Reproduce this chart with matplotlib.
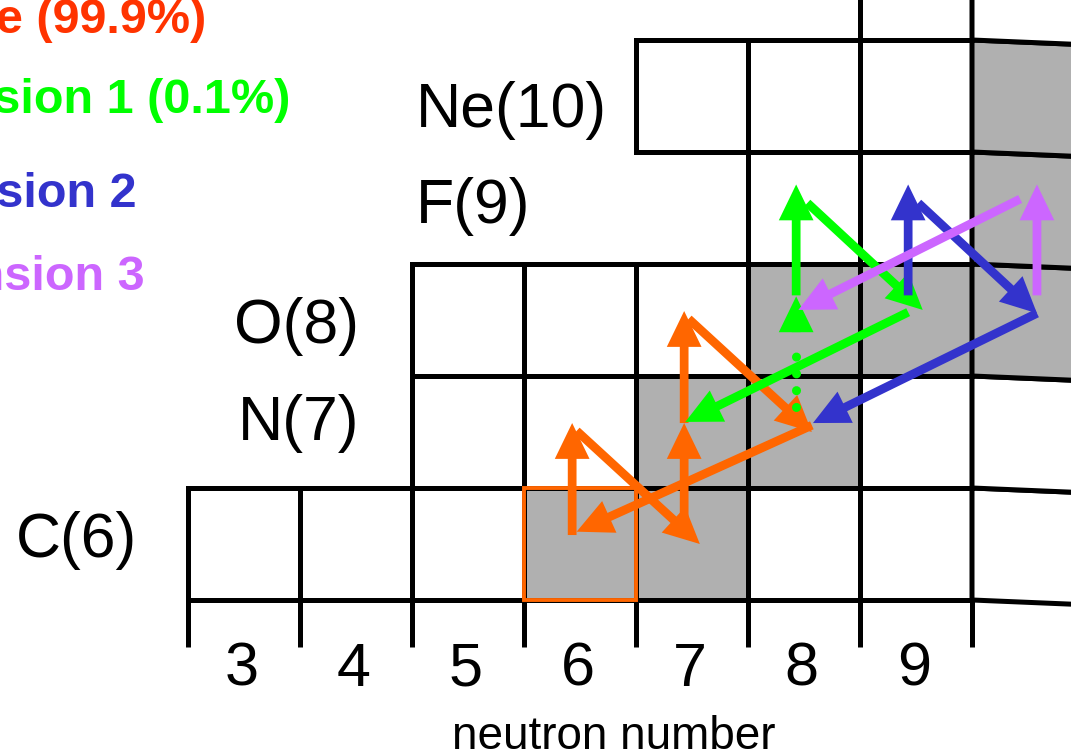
import math
import matplotlib
matplotlib.use('Agg')
import matplotlib.pyplot as plt
from matplotlib.patches import Rectangle, Polygon

plt.rcParams['font.family'] = ['Liberation Sans', 'DejaVu Sans']

# nuclide chart rows: element, proton number, first and last neutron number shown
elements = ['C', 'N', 'O', 'F', 'Ne', 'Na']
proton_numbers = [6, 7, 8, 9, 10, 11]
first_neutron = [3, 5, 5, 8, 7, 9]
last_neutron = [10, 10, 10, 10, 10, 10]
# stable nuclides as (N, Z)
stable = [(6, 6), (7, 6), (7, 7), (8, 7), (8, 8), (9, 8), (10, 8), (10, 9), (10, 10)]
neutron_ticks = [3, 4, 5, 6, 7, 8, 9]

# reactions (N, Z) -> (N, Z): pg = (p,gamma), beta = beta+ decay, pa = (p,alpha)
main_cycle = [((6, 6), (6, 7), 'pg'), ((6, 7), (7, 6), 'beta'), ((7, 6), (7, 7), 'pg'),
              ((7, 7), (7, 8), 'pg'), ((7, 8), (8, 7), 'beta'), ((8, 7), (6, 6), 'pa')]
extension1 = [((8, 7), (8, 8), 'pg'), ((8, 8), (8, 9), 'pg'), ((8, 9), (9, 8), 'beta'),
              ((9, 8), (7, 7), 'pa')]
extension2 = [((9, 8), (9, 9), 'pg'), ((9, 9), (10, 8), 'beta'), ((10, 8), (8, 7), 'pa')]
extension3 = [((10, 8), (10, 9), 'pg'), ((10, 9), (8, 8), 'pa')]
dotted_steps = [[], [0], [], []]
legend_text = ['CNO cycle (99.9%)', 'CNO extension 1 (0.1%)', 'CNO extension 2',
               'CNO extension 3']

colors = ['#ff6600', '#00ff00', '#3333cc', '#cc66ff']
text_colors = ['#ff3300', '#00ff00', '#3333cc', '#cc66ff']
gray = '#b0b0b0'

# where the arrows sit inside a cell: kind -> (start dx, dy, end dx, dy)
offsets = [
    {'pg': (-0.07, 0.08, -0.07, 0.08), 'beta': (-0.03, 0.01, 0.07, 0.0),
     'pa': (0.07, 0.06, -0.03, 0.11)},
    {'pg': (-0.07, 0.22, -0.07, 0.21), 'beta': (0.03, 0.045, 0.06, 0.09),
     'pa': (-0.07, 0.07, -0.06, 0.09)},
    {'pg': (-0.07, 0.22, -0.07, 0.21), 'beta': (0.02, 0.045, 0.08, 0.06),
     'pa': (0.08, 0.06, 0.08, 0.08)},
    {'pg': (0.08, 0.22, 0.08, 0.21), 'pa': (-0.07, 0.08, -0.05, 0.09)},
]

W, H = 1071, 755
fig = plt.figure(figsize=(W / 100, H / 100), dpi=100)
ax = fig.add_axes([0, 0, 1, 1])
ax.set_xlim(3 - 244 / 112, 3 + (W - 244) / 112)
ax.set_ylim(6 - (H - 544) / 112, 6 + 544 / 112)
ax.axis('off')

LW = 3.6
TILT = 0.042  # the scanned right column leans a little

for el, z, n0, n1 in zip(elements, proton_numbers, first_neutron, last_neutron):
    for n in range(n0, n1 + 1):
        fc = gray if (n, z) in stable else 'white'
        if n == 10:
            pts = [(n - 0.5, z - 0.5), (n + 0.5, z - 0.5 - TILT),
                   (n + 0.5, z + 0.5 - TILT), (n - 0.5, z + 0.5)]
            ax.add_patch(Polygon(pts, closed=True, fc=fc, ec='black', lw=LW, zorder=1,
                                 joinstyle='miter'))
        else:
            ax.add_patch(Rectangle((n - 0.5, z - 0.5), 1, 1, fc=fc, ec='black', lw=LW,
                                   zorder=1, joinstyle='miter'))

# tick stubs under the carbon row
bottom = min(proton_numbers) - 0.5
ax.vlines([n - 0.5 for n in range(3, 11)], bottom - 0.42, bottom, color='black', lw=LW, zorder=1)

# starting nucleus C-12
ax.add_patch(Rectangle((6 - 0.5, 6 - 0.5), 1, 1, fc='none', ec=colors[0], lw=2.8, zorder=2))

SHAFT, HEAD_W, HEAD_L = 0.078, 0.31, 0.32


def draw_arrow(x0, y0, x1, y1, color, z, dotted=False):
    dx, dy = x1 - x0, y1 - y0
    if not dotted:
        ax.arrow(x0, y0, dx, dy, width=SHAFT, head_width=HEAD_W, head_length=HEAD_L,
                 length_includes_head=True, fc=color, ec='none', zorder=z)
        return
    L = math.hypot(dx, dy)
    ux, uy = dx / L, dy / L
    bx, by = x1 - ux * HEAD_L, y1 - uy * HEAD_L
    ax.plot([x0, bx - ux * 0.08], [y0, by - uy * 0.08], color=color, lw=6.5,
            linestyle=(0, (0.01, 1.85)), dash_capstyle='round', zorder=z)
    ax.arrow(bx, by, ux * (HEAD_L + 0.001), uy * (HEAD_L + 0.001), width=SHAFT,
             head_width=HEAD_W, head_length=HEAD_L, length_includes_head=True,
             fc=color, ec='none', zorder=z)


chains = [main_cycle, extension1, extension2, extension3]
for i, chain in enumerate(chains):
    for j, (src, dst, kind) in enumerate(chain):
        sx, sy, ex, ey = offsets[i][kind]
        draw_arrow(src[0] + sx, src[1] + sy, dst[0] + ex, dst[1] + ey, colors[i],
                   3 + i, dotted=j in dotted_steps[i])

# neutron number ticks and axis title
for n in neutron_ticks:
    ax.text(n - 0.02, 6 - (686 - 544) / 112, str(n), fontsize=44, ha='center',
            va='baseline', zorder=5)
ax.text(6.3, 6 - (749 - 544) / 112, 'neutron number', fontsize=33, ha='center',
        va='baseline')

# element labels (figure pixels: x, baseline, alignment)
label_pos = [(137, 557, 'right'), (359, 440, 'right'), (359, 343, 'right'),
             (416, 223, 'left'), (416, 127, 'left')]
for el, z, (px, py, ha) in zip(elements, proton_numbers, label_pos):
    fig.text(px / W, 1 - py / H, f'{el}({z})', fontsize=45, ha=ha, va='baseline')

# legend, cut off at the left edge like the original
legend_pos = [(206, 33), (290, 113), (137, 207), (145, 290)]
for txt, c, (px, py) in zip(legend_text, text_colors, legend_pos):
    fig.text(px / W, 1 - py / H, txt, fontsize=35, fontweight='bold', color=c,
             ha='right', va='baseline')

fig.savefig('out.png', dpi=100)
